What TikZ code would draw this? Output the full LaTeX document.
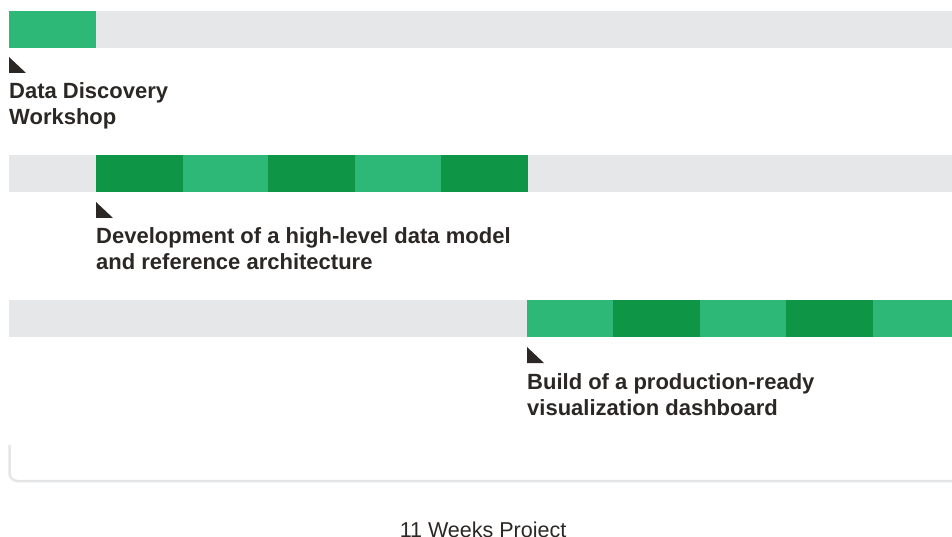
\documentclass[tikz,border=0pt]{standalone}
\usepackage{fontspec}
\setmainfont{Liberation Sans}
\definecolor{track}{HTML}{E6E7E9}
\definecolor{greenlight}{HTML}{2DB877}
\definecolor{greendark}{HTML}{0E9646}
\definecolor{ink}{HTML}{2B2725}
\definecolor{axisline}{HTML}{E4E5E7}
\begin{document}
\begin{tikzpicture}[x=1pt,y=-1pt,
  trackbar/.style={fill=track},
  seglight/.style={fill=greenlight},
  segdark/.style={fill=greendark},
  marker/.style={fill=ink},
  label/.style={anchor=north west,inner sep=0pt,align=left,text=ink,
    font=\fontsize{22}{26}\selectfont\bfseries},
  caption/.style={anchor=base,inner sep=0pt,text=ink,
    font=\fontsize{21.5}{26}\selectfont}]
\useasboundingbox (0,0) rectangle (952,537);
% grey tracks
\fill[trackbar] (9,11) rectangle (952,48);
\fill[trackbar] (9,155) rectangle (952,192);
\fill[trackbar] (9,300) rectangle (952,337);
% phase 1
\fill[seglight] (9,11) rectangle (96,48);
% phase 2
\fill[segdark]  (96,155) rectangle (183,192);
\fill[seglight] (183,155) rectangle (268,192);
\fill[segdark]  (268,155) rectangle (355,192);
\fill[seglight] (355,155) rectangle (441,192);
\fill[segdark]  (441,155) rectangle (528,192);
% phase 3
\fill[seglight] (527,300) rectangle (613,337);
\fill[segdark]  (613,300) rectangle (700,337);
\fill[seglight] (700,300) rectangle (786,337);
\fill[segdark]  (786,300) rectangle (873,337);
\fill[seglight] (873,300) rectangle (952,337);
% start markers
\fill[marker] (9,57) -- (9,73) -- (26,73) -- cycle;
\fill[marker] (96,202) -- (96,218) -- (113,218) -- cycle;
\fill[marker] (527,347) -- (527,363) -- (544,363) -- cycle;
% phase labels
\node[label] (l1) at (9,82) {Data Discovery\\Workshop};
\node[label] (l2) at (96,227) {Development of a high-level data model\\and reference architecture};
\node[label] (l3) at (527,373) {Build of a production-ready\\visualization dashboard};
% time axis
\coordinate (axtop) at (9.5,445);
\coordinate (axend) at (952,481);
\draw[axisline,line width=2.5pt,rounded corners=8pt] (axtop) |- (axend);
\node[caption] (cap) at (483,537) {11 Weeks Project};
\end{tikzpicture}
\end{document}
